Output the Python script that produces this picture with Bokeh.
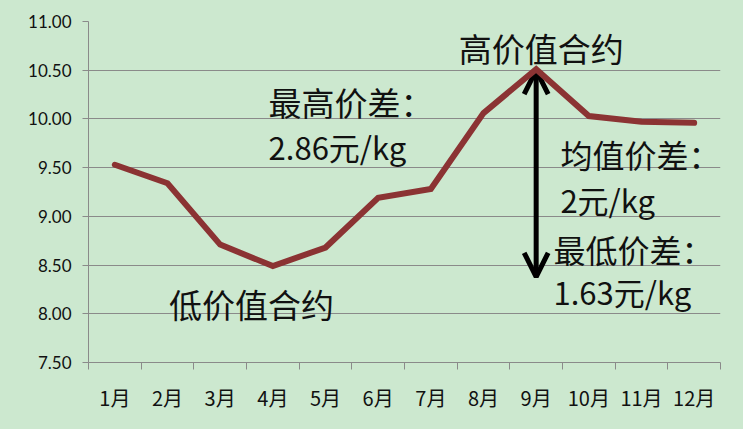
from bokeh.plotting import figure
from bokeh.models import FixedTicker, Range1d, Arrow, OpenHead, Label, NumeralTickFormatter, ColumnDataSource
from bokeh.embed import file_html
from bokeh.resources import INLINE

months = ["1月", "2月", "3月", "4月", "5月", "6月", "7月", "8月", "9月", "10月", "11月", "12月"]
prices = [9.53, 9.34, 8.71, 8.49, 8.68, 9.19, 9.28, 10.06, 10.51, 10.03, 9.97, 9.96]
y_ticks = [7.5, 8.0, 8.5, 9.0, 9.5, 10.0, 10.5, 11.0]

BG = "#cce8cf"
GRID = "#8a8a8a"
LINE = "#8b3333"

xs = [i + 0.5 for i in range(len(months))]

p = figure(width=735, height=421, output_backend="svg", toolbar_location=None,
           x_range=Range1d(0, len(months)), y_range=Range1d(7.5, 11.0),
           min_border_left=88, min_border_right=15, min_border_top=21, min_border_bottom=59)
p.background_fill_color = BG
p.border_fill_color = BG
p.outline_line_color = None

# grids
p.xgrid.grid_line_color = None
p.ygrid.grid_line_color = GRID
p.ygrid.grid_line_width = 1

# y axis
p.yaxis.ticker = FixedTicker(ticks=y_ticks)
p.yaxis.formatter = NumeralTickFormatter(format="0.00")
p.yaxis.axis_line_color = GRID
p.yaxis.major_tick_line_color = GRID
p.yaxis.major_tick_out = 6
p.yaxis.major_tick_in = 0
p.yaxis.minor_tick_line_color = None
p.yaxis.major_label_standoff = 11
p.yaxis.major_label_text_font = "Lato"
p.yaxis.major_label_text_font_size = "17px"
p.yaxis.major_label_text_color = "#111111"

# x axis
p.xaxis.ticker = FixedTicker(ticks=xs, minor_ticks=list(range(len(months) + 1)))
p.xaxis.major_label_overrides = {x: m for x, m in zip(xs, months)}
p.xaxis.axis_line_color = GRID
p.xaxis.major_tick_line_color = None
p.xaxis.major_tick_out = 0
p.xaxis.major_tick_in = 0
p.xaxis.minor_tick_line_color = GRID
p.xaxis.minor_tick_out = 7
p.xaxis.minor_tick_in = 0
p.xaxis.major_label_standoff = 13
p.xaxis.major_label_text_font = "Noto Sans CJK SC"
p.xaxis.major_label_text_font_size = "20px"
p.xaxis.major_label_text_color = "#111111"

# double arrow (price spread), behind the line
peak_i = prices.index(max(prices))
arrow = Arrow(x_start=xs[peak_i], y_start=8.38, x_end=xs[peak_i], y_end=10.5,
              start=OpenHead(size=24, line_width=5, line_color="black"),
              end=OpenHead(size=24, line_width=5, line_color="black"),
              line_width=5, line_color="black", level="underlay")
p.add_layout(arrow)

src = ColumnDataSource(dict(x=xs, y=prices))
p.line("x", "y", source=src, line_color=LINE, line_width=6, line_join="miter", line_cap="round")

# annotations
notes = [
    ("高价值合约", 7.03, 10.73, "33px"),
    ("最高价差：", 3.42, 10.17, "33px"),
    ("2.86元/kg", 3.42, 9.72, "31px"),
    ("均值价差：", 8.96, 9.64, "32px"),
    ("2元/kg", 8.96, 9.17, "31px"),
    ("最低价差：", 8.83, 8.66, "32px"),
    ("1.63元/kg", 8.83, 8.23, "31px"),
    ("低价值合约", 1.53, 8.10, "33px"),
]
for t, x, y, fs in notes:
    p.add_layout(Label(x=x, y=y, text=t, text_font="Noto Sans CJK SC", text_font_size=fs,
                       text_baseline="middle", text_align="left", text_color="#111111"))

html = file_html(p, INLINE)
html = html.replace("<head>", "<head><style>html,body{background:%s;}</style>" % BG, 1)
open("out.html", "w").write(html)
